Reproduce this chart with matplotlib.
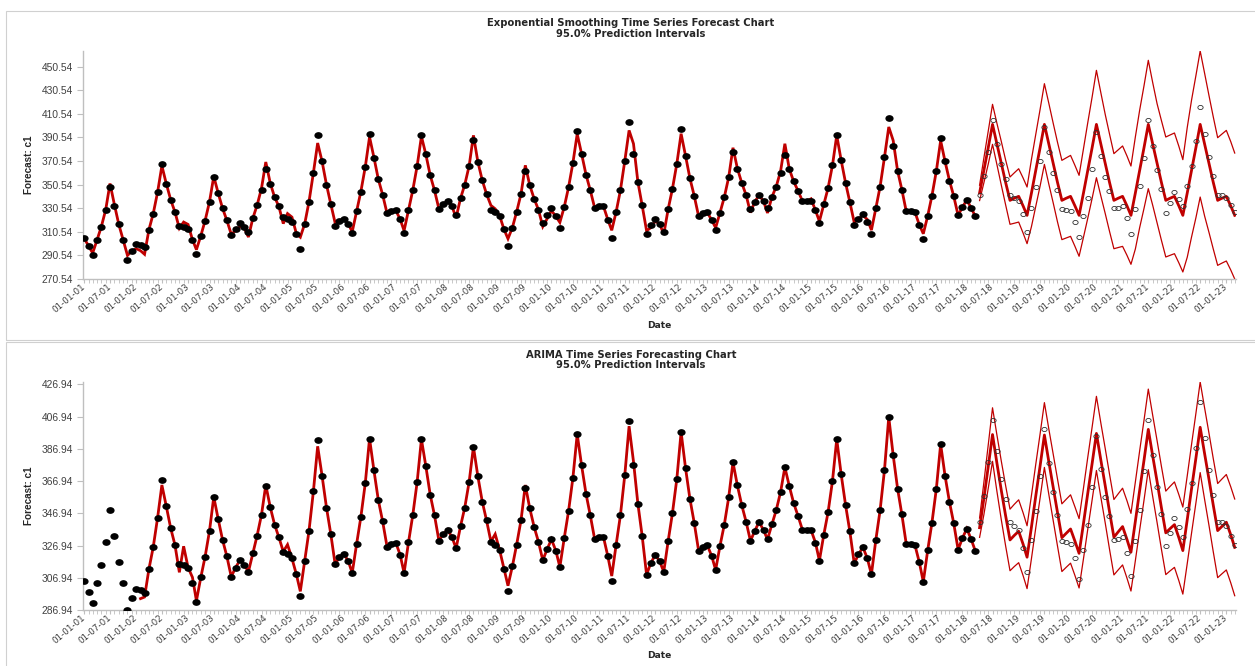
import numpy as np
import pandas as pd
import matplotlib
matplotlib.use("Agg")
import matplotlib.pyplot as plt
import matplotlib.dates as mdates
from matplotlib.path import Path
from matplotlib.transforms import Affine2D
from matplotlib.patches import Rectangle

plt.rcParams["font.family"] = ["Liberation Sans", "DejaVu Sans"]

# observed series, Jan 2001 - Mar 2018 (one row per year)
actual = [
    304.9, 298.3, 291.1, 303.7, 314.9, 329.4, 348.8, 332.7, 316.8, 303.7, 286.94, 294.2,
    300.2, 299.2, 297.7, 312.4, 325.9, 344.3, 367.7, 351.3, 337.7, 327.3, 315.7, 314.7,
    313.0, 303.9, 292.1, 307.2, 320.0, 336.0, 357.1, 343.4, 330.4, 320.3, 307.6, 313.2,
    317.8, 314.9, 310.7, 322.1, 333.1, 346.1, 363.7, 350.9, 339.9, 332.1, 323.2, 321.5,
    319.0, 309.1, 295.8, 317.4, 336.0, 360.6, 392.7, 370.2, 350.5, 334.3, 315.3, 319.9,
    321.7, 317.4, 309.9, 327.9, 344.7, 365.6, 393.3, 373.5, 355.0, 342.0, 326.3, 328.1,
    328.8, 321.3, 309.9, 328.9, 345.7, 366.4, 392.9, 376.2, 358.4, 345.7, 330.0, 333.9,
    336.8, 332.1, 325.2, 338.9, 350.5, 366.6, 388.2, 369.9, 354.2, 342.6, 329.4, 327.1,
    324.2, 312.6, 298.7, 314.1, 327.5, 342.8, 362.5, 350.1, 338.5, 329.4, 317.8, 324.6,
    330.8, 323.6, 313.6, 331.7, 348.2, 369.1, 396.0, 376.6, 359.0, 345.7, 330.8, 332.5,
    332.5, 320.5, 305.2, 327.5, 345.7, 370.8, 403.9, 376.6, 352.8, 332.9, 308.9, 316.1,
    321.1, 317.2, 310.7, 329.8, 347.0, 368.3, 397.3, 375.1, 355.9, 341.2, 323.8, 326.3,
    327.1, 320.5, 311.8, 326.9, 339.9, 356.9, 378.6, 364.2, 351.9, 341.8, 329.8, 336.0,
    341.6, 336.4, 330.8, 340.1, 348.8, 360.2, 375.5, 363.9, 353.2, 345.5, 336.8, 336.6,
    336.6, 328.8, 317.6, 333.7, 347.6, 367.0, 392.9, 371.2, 352.1, 335.8, 315.9, 321.5,
    325.9, 319.0, 309.1, 330.4, 348.8, 373.9, 406.6, 383.0, 362.3, 346.3, 327.9, 327.9,
    327.3, 316.5, 304.5, 324.0, 341.2, 362.3, 389.8, 370.2, 354.0, 340.8, 324.4, 331.5,
    337.4, 330.8, 323.8,
]

# held-out observations, Apr 2018 - Mar 2023
holdout = [
    341.8, 357.9, 378.6, 404.9, 385.3, 368.3, 355.6, 341.8, 339.1,
    336.6, 325.4, 310.7, 330.6, 348.4, 370.2, 399.3, 378.2, 360.0, 345.7, 329.8, 329.2,
    327.9, 319.0, 306.4, 324.2, 339.5, 363.5, 394.8, 374.7, 356.9, 345.1, 330.6, 331.0,
    332.1, 322.3, 308.3, 330.0, 349.0, 373.4, 404.9, 382.9, 363.1, 346.5, 326.5, 334.9,
    343.9, 338.5, 332.3, 349.7, 366.0, 387.7, 416.1, 393.5, 374.1, 358.2, 341.6, 341.4,
    338.9, 332.9, 327.3,
]

# exponential smoothing fitted values, Jan 2001 - Mar 2018
es_fit = [
    304.9, 298.3, 292.5, 303.7, 314.9, 329.4, 351.5, 333.5, 316.8, 303.7, 290.5, 294.2,
    296.3, 294.5, 291.5, 312.4, 325.9, 344.3, 366.5, 351.3, 337.7, 327.3, 313.5, 318.8,
    316.8, 303.9, 295.4, 307.2, 320.0, 336.0, 357.5, 343.4, 330.4, 320.3, 308.5, 311.5,
    315.0, 313.5, 306.1, 322.1, 333.1, 347.5, 369.7, 352.0, 339.9, 332.1, 317.5, 326.0,
    323.0, 309.1, 306.0, 317.4, 336.0, 360.6, 385.8, 370.2, 350.5, 334.3, 318.0, 319.9,
    321.7, 317.4, 310.5, 327.9, 344.7, 365.6, 390.9, 373.5, 355.0, 342.0, 326.3, 328.1,
    328.8, 321.3, 311.5, 328.9, 345.7, 366.4, 391.5, 376.2, 358.4, 345.7, 330.0, 333.9,
    336.8, 332.1, 322.5, 338.9, 350.5, 366.6, 392.3, 369.9, 354.2, 342.6, 332.9, 330.0,
    324.2, 312.6, 304.7, 314.1, 327.5, 342.8, 366.9, 350.1, 338.5, 329.4, 315.0, 321.5,
    328.5, 323.6, 318.5, 331.7, 348.2, 369.1, 393.5, 376.6, 359.0, 345.7, 330.8, 332.5,
    332.5, 321.0, 311.8, 327.5, 345.7, 370.8, 396.5, 385.2, 352.8, 332.9, 311.5, 314.0,
    319.5, 317.2, 308.5, 329.8, 347.0, 368.3, 393.7, 375.1, 355.9, 341.2, 323.8, 326.3,
    327.1, 320.5, 314.0, 326.9, 339.9, 356.9, 381.8, 364.2, 351.9, 341.8, 326.8, 336.0,
    341.6, 336.4, 326.5, 340.1, 348.8, 362.0, 385.2, 363.9, 353.2, 345.5, 336.8, 336.6,
    338.5, 328.8, 319.5, 333.7, 347.6, 367.0, 392.3, 371.2, 352.1, 335.8, 318.5, 321.5,
    324.5, 321.0, 312.0, 330.4, 348.8, 373.9, 399.4, 388.0, 362.3, 346.3, 327.9, 327.9,
    327.3, 316.5, 308.9, 324.0, 341.2, 362.3, 387.8, 370.2, 354.0, 340.8, 324.4, 331.5,
    337.4, 330.8, 323.8,
]

# ARIMA fitted values, Feb 2002 - Mar 2018
arima_start = 13
arima_fit = [
    294.0, 295.0, 312.4, 325.9, 344.3, 364.5, 351.3, 337.7, 327.3, 310.3, 326.5,
    313.4, 307.2, 292.7, 307.2, 320.0, 336.0, 357.1, 343.4, 330.4, 320.3, 307.6, 313.2,
    317.8, 314.9, 310.7, 322.1, 333.1, 346.1, 364.5, 350.9, 339.9, 332.1, 323.2, 327.5,
    319.0, 309.1, 298.5, 317.4, 336.0, 360.6, 388.5, 370.2, 350.5, 334.3, 315.3, 319.9,
    321.7, 317.4, 309.9, 327.9, 344.7, 365.6, 393.3, 373.5, 355.0, 342.0, 326.3, 328.1,
    328.8, 321.3, 309.9, 328.9, 345.7, 366.4, 392.9, 376.2, 358.4, 345.7, 330.0, 333.9,
    336.8, 332.1, 325.2, 338.9, 350.5, 366.6, 388.2, 369.9, 354.2, 342.6, 329.4, 334.0,
    324.2, 312.6, 302.0, 314.1, 327.5, 342.8, 364.5, 350.1, 338.5, 329.4, 317.8, 324.6,
    330.8, 323.6, 313.6, 331.7, 348.2, 369.1, 396.0, 376.6, 359.0, 345.7, 330.8, 332.5,
    332.5, 320.5, 308.0, 327.5, 345.7, 370.8, 401.0, 379.0, 352.8, 332.9, 308.9, 316.1,
    321.1, 317.2, 310.7, 329.8, 347.0, 368.3, 397.3, 375.1, 355.9, 341.2, 323.8, 326.3,
    327.1, 320.5, 311.8, 326.9, 339.9, 356.9, 378.6, 364.2, 351.9, 341.8, 329.8, 336.0,
    341.6, 336.4, 330.8, 340.1, 348.8, 360.2, 375.5, 363.9, 353.2, 345.5, 336.8, 336.6,
    336.6, 328.8, 317.6, 333.7, 347.6, 367.0, 392.9, 371.2, 352.1, 335.8, 315.9, 321.5,
    325.9, 319.0, 309.1, 330.4, 348.8, 373.9, 406.6, 383.0, 362.3, 346.3, 327.9, 327.9,
    327.3, 316.5, 304.5, 324.0, 341.2, 362.3, 389.8, 370.2, 354.0, 340.8, 324.4, 331.5,
    337.4, 330.8, 323.8,
]

# exponential smoothing forecast with 95% bounds, Apr 2018 - Mar 2023
es_fc = [
    343.5, 362.5, 382.0, 401.6, 385.0, 368.5, 352.5, 337.2, 339.0,
    340.6, 332.5, 324.5, 343.5, 362.5, 382.0, 401.6, 385.0, 368.5, 352.5, 337.2, 339.0,
    340.6, 332.5, 324.5, 343.5, 362.5, 382.0, 401.6, 385.0, 368.5, 352.5, 337.2, 339.0,
    340.6, 332.5, 324.5, 343.5, 362.5, 382.0, 401.6, 385.0, 368.5, 352.5, 337.2, 339.0,
    340.6, 332.5, 324.5, 343.5, 362.5, 382.0, 401.6, 385.0, 368.5, 352.5, 337.2, 339.0,
    340.6, 332.5, 324.5,
]
es_hi = [
    350.0, 373.0, 396.0, 418.6, 402.5, 387.0, 371.5, 357.0, 360.5,
    364.0, 356.2, 348.5, 372.0, 393.0, 414.5, 436.1, 419.5, 402.5, 386.5, 371.1, 373.2,
    375.3, 366.8, 358.4, 381.0, 403.0, 425.0, 447.4, 428.5, 410.0, 393.5, 376.8, 380.0,
    383.3, 374.8, 366.3, 391.0, 413.5, 434.5, 455.9, 437.0, 419.0, 405.0, 390.9, 392.6,
    394.3, 383.0, 371.7, 399.0, 422.0, 443.0, 463.8, 445.0, 426.0, 408.0, 390.3, 393.4,
    396.5, 387.0, 377.3,
]
es_lo = [
    337.0, 352.0, 368.0, 384.7, 367.5, 350.0, 333.5, 316.9, 317.8,
    318.8, 309.5, 300.5, 315.0, 332.0, 349.5, 367.7, 351.0, 335.0, 319.0, 303.9, 305.3,
    306.7, 298.2, 289.8, 306.0, 322.0, 339.0, 356.4, 341.0, 326.0, 311.0, 296.2, 297.2,
    298.2, 290.6, 283.0, 296.0, 314.0, 330.5, 347.1, 333.0, 318.0, 303.5, 289.2, 290.6,
    292.0, 284.2, 276.5, 289.0, 306.0, 322.5, 340.0, 324.0, 310.0, 296.0, 282.1, 284.0,
    285.8, 278.2, 270.54,
]

# ARIMA forecast with 95% bounds, Apr 2018 - Mar 2023
ar_fc = [
    338.0, 356.0, 376.0, 395.8, 378.0, 361.0, 345.5, 330.4, 333.2,
    335.8, 327.8, 319.7, 338.5, 357.5, 376.5, 395.5, 379.0, 363.0, 347.5, 331.8, 334.5,
    337.2, 329.6, 322.1, 340.7, 359.3, 378.0, 396.5, 380.0, 364.0, 348.0, 332.1, 335.4,
    338.7, 330.7, 322.8, 342.0, 361.0, 380.0, 399.0, 382.5, 366.5, 350.5, 334.8, 337.4,
    339.9, 331.8, 323.8, 343.0, 362.0, 381.2, 400.3, 384.0, 368.0, 352.0, 336.2, 338.8,
    341.4, 333.6, 325.8,
]
ar_hi = [
    344.0, 366.0, 389.5, 412.4, 395.5, 379.2, 364.2, 349.5, 352.5,
    355.3, 347.3, 339.2, 358.1, 377.2, 396.4, 415.6, 399.3, 383.6, 368.3, 352.8, 355.6,
    358.4, 350.9, 343.6, 362.6, 381.6, 400.6, 419.5, 403.0, 387.1, 371.3, 355.5, 359.0,
    362.5, 354.7, 346.9, 366.4, 385.6, 404.8, 424.0, 407.7, 391.9, 376.2, 360.7, 363.6,
    366.4, 358.5, 350.8, 370.2, 389.5, 409.0, 428.4, 412.4, 396.6, 380.9, 365.4, 368.2,
    371.0, 363.4, 355.8,
]
ar_lo = [
    332.0, 346.0, 362.5, 379.2, 360.5, 342.8, 326.8, 311.3, 313.9,
    316.3, 308.3, 300.2, 318.9, 337.8, 356.6, 375.4, 358.7, 342.4, 326.7, 310.8, 313.4,
    316.0, 308.3, 300.6, 318.8, 337.0, 355.4, 373.5, 357.0, 340.9, 324.7, 308.7, 311.8,
    314.9, 306.7, 298.7, 317.6, 336.4, 355.2, 374.0, 357.3, 341.1, 324.8, 308.9, 311.2,
    313.4, 305.1, 296.8, 315.8, 334.5, 353.4, 372.2, 355.6, 339.4, 323.1, 307.0, 309.4,
    311.8, 303.8, 295.8,
]

n_obs = len(actual)
dates = pd.date_range("2001-01-01", periods=n_obs + len(holdout), freq="MS")
obs_dates = dates[:n_obs]
fc_dates = dates[n_obs:]

RED = "#c00000"
AXIS_GREY = "#bfbfbf"
TEXT_GREY = "#404040"
TITLE_FONT = ["DejaVu Sans"]
W, H = 1255, 666

# slightly wide elliptical marker
dot = Affine2D().scale(1.28, 1.0).transform_path(Path.unit_circle())

fig = plt.figure(figsize=(W / 100, H / 100), dpi=100)


def px_box(x0, y0, x1, y1):
    return [x0 / W, 1 - y1 / H, (x1 - x0) / W, (y1 - y0) / H]


def draw_panel(rect, fit_dates, fit, fc, hi, lo, title, title_y, date_y):
    ax = fig.add_axes(rect)
    ax.plot(fit_dates, fit, color=RED, lw=2.0, zorder=2, solid_joinstyle="miter")
    ax.plot(fc_dates, hi, color=RED, lw=0.9, zorder=2)
    ax.plot(fc_dates, lo, color=RED, lw=0.9, zorder=2)
    ax.plot(fc_dates, fc, color=RED, lw=2.0, zorder=2)
    ax.plot(obs_dates, actual, ls="none", marker=dot, ms=4.9, color="black", zorder=3)
    ax.plot(fc_dates, holdout, ls="none", marker=dot, ms=3.8, mfc="none",
            mec="#303030", mew=0.6, zorder=3)

    lo_all = min(np.min(actual), np.min(lo))
    hi_all = max(np.max(holdout), np.max(hi), np.max(actual))
    ax.set_ylim(lo_all, hi_all)
    ax.set_yticks(np.arange(lo_all, hi_all, 20.0))
    ax.yaxis.set_major_formatter(plt.FuncFormatter(lambda v, p: f"{v:.2f}"))
    ax.set_xlim(dates[0] - pd.Timedelta(days=9), dates[-1] + pd.Timedelta(days=9))

    ax.xaxis.set_major_locator(mdates.MonthLocator(bymonth=[1, 7]))
    ax.xaxis.set_minor_locator(mdates.MonthLocator())
    ax.xaxis.set_major_formatter(mdates.DateFormatter("%d-%m-%y"))

    for s in ("top", "right"):
        ax.spines[s].set_visible(False)
    for s in ("left", "bottom"):
        ax.spines[s].set_color(AXIS_GREY)
        ax.spines[s].set_linewidth(1.0)
    ax.tick_params(axis="y", length=4, color=AXIS_GREY, labelsize=7.4, labelcolor=TEXT_GREY, pad=3)
    ax.tick_params(axis="x", which="both", length=3, color=AXIS_GREY)
    ax.tick_params(axis="x", labelcolor=TEXT_GREY, pad=2)
    for lab in ax.get_xticklabels():
        lab.set_family(TITLE_FONT)
        lab.set_fontsize(6.3)
        lab.set_rotation(40)
        lab.set_ha("right")
        lab.set_va("center")
        lab.set_rotation_mode("anchor")

    cx = (rect[0] + rect[2] / 2)
    fig.text(631 / W, 1 - title_y / H, title, ha="center", va="center", family=TITLE_FONT,
             fontsize=7.2, fontweight="bold", color="#262626")
    fig.text(631 / W, 1 - (title_y + 11) / H, "95.0% Prediction Intervals", ha="center",
             va="center", family=TITLE_FONT, fontsize=7.2, fontweight="bold", color="#262626")
    fig.text(cx, 1 - date_y / H, "Date", ha="center", va="center", family=TITLE_FONT,
             fontsize=6.6, fontweight="bold", color="#262626")
    fig.text(29 / W, rect[1] + rect[3] / 2, "Forecast: c1", rotation=90, ha="center",
             va="center", fontsize=7.2, fontweight="bold", color="#262626")
    return ax


# chart-area frames
fig.add_artist(Rectangle((6 / W, 1 - 339.5 / H), 1.0, 328.5 / H, transform=fig.transFigure,
                         fill=False, edgecolor="#d0d0d0", lw=0.8))
fig.add_artist(Rectangle((6 / W, -0.05), 1.0, 0.05 + 1 - 342 / H, transform=fig.transFigure,
                         fill=False, edgecolor="#d0d0d0", lw=0.8))

draw_panel(px_box(83, 51, 1236, 279), obs_dates, es_fit, es_fc, es_hi, es_lo,
           "Exponential Smoothing Time Series Forecast Chart", 23, 325)
draw_panel(px_box(83, 382, 1236, 610), dates[arima_start:n_obs], arima_fit, ar_fc, ar_hi, ar_lo,
           "ARIMA Time Series Forecasting Chart", 354.5, 655)

fig.savefig("out.png", dpi=100)
